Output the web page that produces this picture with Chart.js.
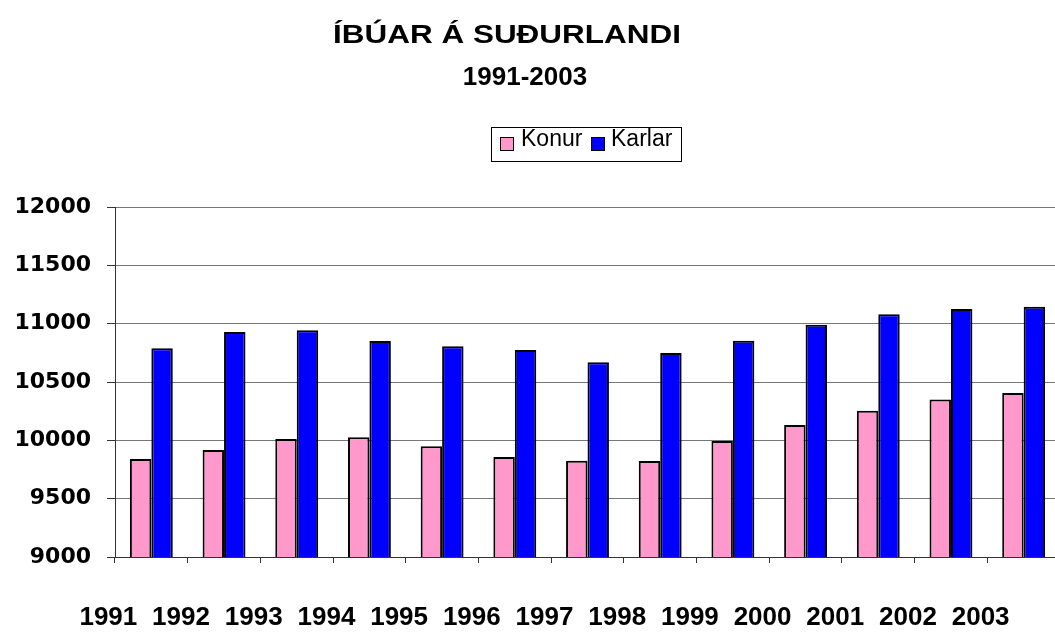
<!DOCTYPE html>
<html>
<head>
<meta charset="utf-8">
<script src="https://cdn.jsdelivr.net/npm/chart.js@4/dist/chart.umd.min.js"></script>
<style>
  html, body { margin: 0; padding: 0; background: #fff; overflow: hidden; }
  #wrap { width: 1062px; height: 633px; }
</style>
</head>
<body>
<div id="wrap"><canvas id="ibuar" width="1062" height="633"></canvas></div>
<script>
const years = ["1991", "1992", "1993", "1994", "1995", "1996", "1997", "1998", "1999", "2000", "2001", "2002", "2003"];
const konur = [9840, 9917, 10011, 10026, 9949, 9857, 9826, 9823, 9994, 10131, 10254, 10349, 10406];
const karlar = [10789, 10929, 10943, 10851, 10806, 10774, 10669, 10749, 10854, 10991, 11080, 11126, 11146];
const seriesNames = ["Konur", "Karlar"];
const titleText = "ÍBÚAR Á SUÐURLANDI";
const subtitleText = "1991-2003";

const pink = "#FF99CC";
const blue = "#0000FF";

// title, subtitle and the boxed legend are drawn by hand (they sit off-centre in the original)
const headerPlugin = {
  id: "header",
  afterDraw(chart) {
    const ctx = chart.ctx;
    ctx.save();
    ctx.fillStyle = "#000";
    ctx.textBaseline = "alphabetic";
    ctx.textAlign = "center";

    ctx.save();
    ctx.font = "bold 26px 'Liberation Sans', Arial, sans-serif";
    ctx.translate(507, 43);
    ctx.scale(1.21, 1);
    ctx.fillText(titleText, 0, 0);
    ctx.restore();

    ctx.font = "bold 26px 'Liberation Sans', Arial, sans-serif";
    ctx.fillText(subtitleText, 525, 85);

    // legend
    ctx.strokeStyle = "#000";
    ctx.lineWidth = 1;
    ctx.strokeRect(491.5, 127.5, 190, 34);
    ctx.font = "23px 'Liberation Sans', Arial, sans-serif";
    ctx.textAlign = "left";
    const items = [
      { sx: 500, tx: 521 },
      { sx: 591, tx: 611 }
    ];
    chart.data.datasets.forEach((ds, i) => {
      const it = items[i];
      ctx.fillStyle = ds.backgroundColor;
      ctx.fillRect(it.sx, 137, 13, 13);
      ctx.strokeRect(it.sx + 0.5, 137.5, 13, 13);
      ctx.fillStyle = "#000";
      ctx.fillText(ds.label, it.tx, 146);
    });
    ctx.restore();
  }
};

new Chart(document.getElementById("ibuar"), {
  type: "bar",
  data: {
    labels: years,
    datasets: [
      {
        label: seriesNames[0],
        data: konur,
        backgroundColor: pink,
        borderColor: "#000",
        borderWidth: 2,
        barPercentage: 1,
        categoryPercentage: 0.59
      },
      {
        label: seriesNames[1],
        data: karlar,
        backgroundColor: blue,
        borderColor: "#000",
        borderWidth: 2,
        barPercentage: 1,
        categoryPercentage: 0.59
      }
    ]
  },
  options: {
    responsive: false,
    animation: false,
    layout: { padding: { top: 207, right: 2, bottom: 0, left: 0 } },
    plugins: {
      legend: { display: false },
      title: { display: false },
      tooltip: { enabled: false }
    },
    scales: {
      x: {
        offset: true,
        grid: { offset: true, drawOnChartArea: false, drawTicks: true, tickLength: 6, color: "#333" },
        border: { color: "#333", width: 1 },
        ticks: {
          color: "#000",
          padding: 39,
          labelOffset: -43,
          maxRotation: 0,
          autoSkip: false,
          font: { family: "'Liberation Sans', Arial, sans-serif", size: 26, weight: "bold" }
        },
        afterFit: (scale) => {
          scale.height = 76;
          scale.paddingLeft = 0;
          scale.paddingRight = 0;
        }
      },
      y: {
        min: 9000,
        max: 12000,
        grid: { color: "#777", lineWidth: 1, tickLength: 8, tickColor: "#333" },
        border: { color: "#333", width: 1 },
        ticks: {
          stepSize: 500,
          color: "#000",
          padding: 16,
          callback: (v) => String(v),
          font: { family: "'DejaVu Sans', sans-serif", size: 22, weight: "bold" }
        },
        afterFit: (scale) => {
          scale.width = 115;
          scale.paddingTop = 0;
          scale.paddingBottom = 0;
        }
      }
    }
  },
  plugins: [headerPlugin]
});
</script>
</body>
</html>
